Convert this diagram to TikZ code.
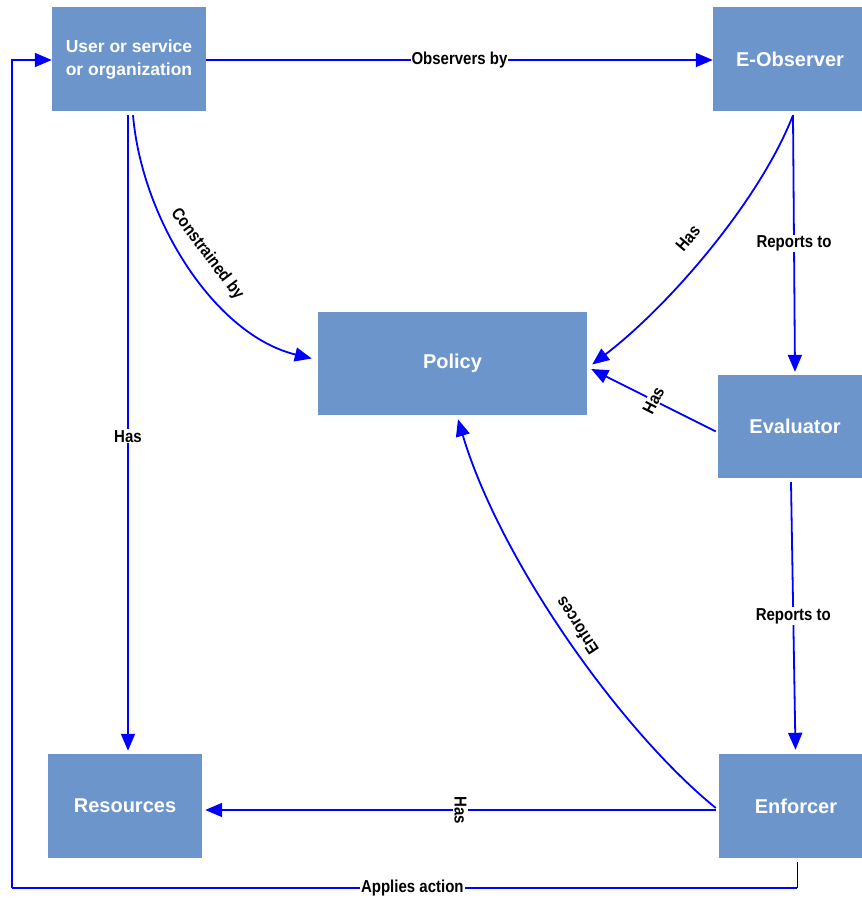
\documentclass[tikz,border=0pt]{standalone}
\usepackage{fontspec}
\setmainfont{Liberation Sans}
\usetikzlibrary{arrows.meta,calc}
\definecolor{boxblue}{RGB}{108,149,204}
\definecolor{linkblue}{RGB}{0,0,255}
% labels on the connectors are set slightly taller than wide
\newcommand\lbltxt[1]{\scalebox{1}[1.15]{#1}}
\begin{document}
\begin{tikzpicture}[x=1pt,y=-1pt,
  entity/.style={fill=boxblue,draw=none,text=white,inner sep=0pt,
    minimum width=154pt,minimum height=104pt,
    font=\fontsize{20}{23}\selectfont\bfseries,align=center},
  link/.style={draw=linkblue,line width=1.8pt,-{Triangle[length=17pt,width=14pt]}},
  plainlink/.style={draw=linkblue,line width=1.8pt},
  tag/.style={font=\fontsize{15}{17}\selectfont\bfseries,fill=white,inner sep=1pt},
  freetag/.style={font=\fontsize{15}{17}\selectfont\bfseries,inner sep=0pt}]
\path[use as bounding box] (0,0) rectangle (862,898);

% entities (the right-hand column runs past the page edge)
\node[entity,font=\fontsize{17.5}{23}\selectfont\bfseries] (user) at (129,59)
  {\raisebox{-2pt}{\begin{tabular}{@{}c@{}}User or service\\or organization\end{tabular}}};
\node[entity] (eobs) at (790,59) {E-Observer};
\node[entity,minimum width=269pt,minimum height=103pt] (policy) at (452.5,363.5) {Policy};
\node[entity,minimum height=103pt] (eval) at (795,426.5) {Evaluator};
\node[entity] (res) at (125,806) {Resources};
\node[entity] (enf) at (796,806) {Enforcer};

% attachment points on the boxes (offsets in picture units, y downwards)
\coordinate (uR)  at ($(user.east)+(0,1)$);
\coordinate (eL)  at ($(eobs.west)+(0,1)$);
\coordinate (uB1) at ($(user.south)+(-1,4)$);
\coordinate (uB2) at ($(user.south)+(4,4)$);
\coordinate (rT)  at ($(res.north)+(3,-3)$);
\coordinate (pL)  at ($(policy.west)+(-6,-5)$);
\coordinate (eB)  at ($(eobs.south)+(3,4)$);
\coordinate (pR1) at ($(policy.east)+(5,1)$);
\coordinate (pR2) at ($(policy.east)+(4,5.5)$);
\coordinate (vT)  at ($(eval.north)+(0,-3)$);
\coordinate (vL)  at ($(eval.west)+(-2,5)$);
\coordinate (vB)  at ($(eval.south)+(-4,4)$);
\coordinate (fT)  at ($(enf.north)+(-0.5,-4)$);
\coordinate (fL1) at ($(enf.west)+(-3,2)$);
\coordinate (fL2) at ($(enf.west)+(-3,4)$);
\coordinate (rR)  at ($(res.east)+(3,4)$);
\coordinate (pB)  at ($(policy.south)+(5.5,4)$);
\coordinate (fB)  at ($(enf.south)+(1,4)$);
\coordinate (uL)  at ($(user.west)+(0,1)$);
\coordinate (c1) at (797,888);
\coordinate (c2) at (12,888);

% connectors
\draw[link] (uR) -- node[tag]{\lbltxt{Observers by}} (eL);
\draw[link] (uB2) .. controls (142,220) and (215,335) .. (pL);
\node[freetag,rotate=-53] at (207,254) {\lbltxt{Constrained by}};
\draw[link] (uB1) -- node[tag,pos=0.505]{\lbltxt{Has}} (rT);
\draw[link] (eB) .. controls (760,200) and (670,305) .. (pR1);
\node[freetag,rotate=50] at (688,238) {\lbltxt{Has}};
\draw[link] (eB) -- node[tag,pos=0.5]{\lbltxt{Reports to}} (vT);
\draw[link] (vL) -- node[tag,rotate=63,pos=0.5]{\lbltxt{Has}} (pR2);
\draw[link] (vB) -- node[tag,pos=0.5]{\lbltxt{Reports to}} (fT);
\draw[link] (fL1) .. controls (620,730) and (500,560) .. (pB);
\node[freetag,rotate=123] at (577,626) {\lbltxt{Enforces}};
\draw[link] (fL2) -- node[tag,rotate=-90,pos=0.5]{\lbltxt{Has}} (rR);
\draw[black,line width=1pt] (fB) -- (c1);
\draw[plainlink] (c1) -- node[tag,pos=0.49]{\lbltxt{Applies action}} (c2);
\draw[link] (c2) |- (uL);
\end{tikzpicture}
\end{document}
